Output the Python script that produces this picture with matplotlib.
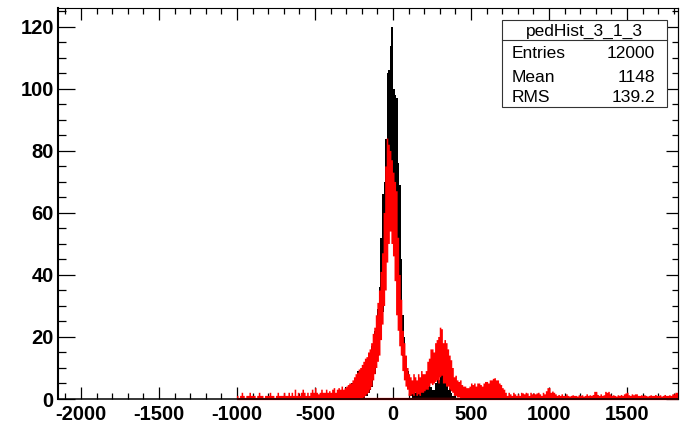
import numpy as np
import matplotlib
matplotlib.use("Agg")
import matplotlib.pyplot as plt
from matplotlib.patches import Rectangle
from matplotlib.ticker import MultipleLocator

# ---------------- data (envelopes of the fine-binned histograms, 10-unit bins) ----------------
bin_width = 10

# red histogram: upper envelope, bins start at -1000
red_start = -1000
red_hi = [
    1, 0, 1, 2, 1, 0, 1, 1, 2, 1,            # -1000
    1, 1, 0, 1, 2, 1, 1, 0, 1, 1,            # -900
    1, 2, 1, 1, 0, 1, 2, 1, 1, 1,            # -800
    2, 1, 1, 2, 1, 2, 1, 3, 1, 2,            # -700
    1, 2, 3, 2, 1, 2, 1, 2, 3, 2,            # -600
    3.5, 2, 1.5, 2, 3, 2, 2, 3, 2, 2.5,      # -500
    2, 3, 3.5, 2, 3, 3.5, 3, 4, 3, 3.5,      # -400
    4, 4.5, 5, 5, 6, 7, 8, 8.5, 9.5, 10,     # -300
    11, 12, 13, 13.5, 15, 16, 18, 21, 23, 27,  # -200
    31, 35, 41, 47, 60, 75, 84, 82, 80, 77,  # -100
    73, 70, 67, 52, 40, 32, 22, 18, 14, 10,  # 0
    8, 7, 6, 8, 7, 6, 8, 7, 9, 8,            # 100
    8, 9, 12, 13, 16, 16, 15, 18, 19, 20,    # 200
    23, 22.5, 18, 19, 18, 16, 14, 12.5, 10, 7,  # 300
    7.5, 6, 5.5, 6, 4.5, 4, 4, 3.5, 3.5, 4,  # 400
    5, 4.5, 5, 4, 5, 5, 4.5, 4, 5, 5.5,      # 500
    5.5, 5, 6, 6, 6.5, 6.7, 6, 6, 5, 4.5,    # 600
    3.5, 3, 2, 1, 2, 1.5, 1, 2, 1.5, 1,      # 700
    1.5, 1, 2, 1.8, 1.5, 2, 1.8, 1, 2, 1.5,  # 800
    1.8, 1.5, 1.8, 2, 1.5, 1, 2, 1.5, 2.5, 3.5,  # 900
    3.5, 2, 2.4, 2, 1.5, 1, 1.3, 1, 1.5, 1,  # 1000
    1, 1.5, 1, 0.8, 1, 1.2, 1, 1, 0.8, 1.2,  # 1100
    1, 1.2, 0.8, 1, 1.5, 1, 1.2, 1, 1.3, 2.3,  # 1200
    2.3, 1.3, 1, 1.5, 1, 1.2, 2.3, 2, 2.3, 1.5,  # 1300
    1, 1.2, 1, 0.8, 1.2, 1, 1.3, 1, 1.5, 1.8,  # 1400
    2, 1.2, 1, 1.5, 1.2, 1.5, 1.5, 1, 1, 1.2,  # 1500
    1, 1.2, 1, 0.8, 1, 1.2, 1, 1, 1.3, 1,    # 1600
    1, 1.2, 0.8, 1, 1.3, 1, 1, 1.2, 1, 1.5,  # 1700
    1.5, 2, 2, 1.5,                          # 1800
]
# red histogram: lower envelope (hollow), bins start at -200
red_lo_start = -200
red_lo = [
    0, 0.5, 1, 1.5, 2, 3, 4, 6, 8, 10,       # -200
    12, 14, 19, 24, 30, 35, 44, 50, 54, 50,  # -100
    46, 38, 27, 22, 17, 14, 9, 6, 4, 3,      # 0
    1, 1, 1.5, 1, 2, 1, 1.5, 1, 2, 2,        # 100
    2.5, 3, 3, 4, 5, 4.5, 5, 5.5, 6, 5,      # 200
    7, 7.5, 5, 5, 4, 4, 3, 2.5, 2, 1,        # 300
    1, 0.5, 0.5, 0, 0, 0,                    # 400
]

# black histogram: upper envelope, bins start at -700
black_start = -700
black_hi = [
    0, 1, 0, 0, 1, 0, 0, 1, 0, 1,            # -700
    0, 1, 0, 1, 0, 0, 1, 0, 1, 1,            # -600
    1, 0, 1, 1, 0, 1, 2, 1, 0, 1,            # -500
    1, 2, 1, 2, 1, 2, 3, 2, 2, 4,            # -400
    3, 4, 4, 5, 5, 6, 7, 9, 9, 9,            # -300
    10, 11, 12.6, 12.6, 14, 15, 17, 20, 22, 26,  # -200
    29, 36, 52, 66, 70, 84, 105, 106, 114, 120,  # -100
    100, 98, 97, 76, 69, 45, 27, 20, 14, 9,  # 0
    5, 3, 2, 3, 2, 3, 2, 4, 3, 4,            # 100
    4.5, 4, 4, 4.5, 4, 3, 3, 5, 6, 6,        # 200
    8.3, 8, 6, 5, 4.3, 3, 3.5, 2, 1, 1,      # 300
]
# black histogram: lower envelope, bins start at -200
black_lo_start = -200
black_lo = [
    0, 0, 1, 1, 2, 3, 4, 6, 8, 11,           # -200
    14, 16, 22, 28, 35, 45, 55, 62, 66, 68,  # -100
    62, 55, 45, 35, 27, 20, 14, 9, 6, 4,     # 0
    2, 1,                                    # 100
]

stats_title = "pedHist_3_1_3"
stats_rows = [("Entries", "12000"), ("Mean", "1148"), ("RMS", "139.2")]

x_major_ticks = [-2000, -1500, -1000, -500, 0, 500, 1000, 1500]
y_major_ticks = [0, 20, 40, 60, 80, 100, 120]
xlim = (-2147, 1827)
ylim = (0, 126.1)


def envelope(start, hi, lo_start, lo):
    hi = np.asarray(hi, dtype=float)
    edges = start + bin_width * np.arange(len(hi) + 1)
    low = np.zeros_like(hi)
    i0 = (lo_start - start) // bin_width
    low[i0:i0 + len(lo)] = lo
    low = np.minimum(low, hi)
    return edges, hi, low


r_edges, r_hi, r_lo = envelope(red_start, red_hi, red_lo_start, red_lo)
b_edges, b_hi, b_lo = envelope(black_start, black_hi, black_lo_start, black_lo)

# ---------------- figure ----------------
plt.rcParams['font.family'] = ['Liberation Sans', 'DejaVu Sans']
fig = plt.figure(figsize=(6.89, 4.23), dpi=100)
ax = fig.add_axes([58 / 689, 1 - 399 / 423, 620 / 689, 391 / 423])

ax.stairs(b_hi, b_edges, baseline=b_lo, fill=True, color='black', lw=0, zorder=2)
ax.stairs(r_hi, r_edges, baseline=r_lo, fill=True, color='#ff0000', lw=0, zorder=3)
ax.hlines(0, r_edges[0], min(r_edges[-1], xlim[1]), color='#ff0000', lw=1.6,
          zorder=4, clip_on=False)

ax.set_xlim(*xlim)
ax.set_ylim(*ylim)

ax.set_xticks(x_major_ticks)
ax.set_xticklabels([str(v) for v in x_major_ticks])
ax.set_yticks(y_major_ticks)
ax.set_yticklabels([str(v) for v in y_major_ticks])
ax.xaxis.set_minor_locator(MultipleLocator(100))
ax.yaxis.set_minor_locator(MultipleLocator(5))

for lab in ax.get_xticklabels() + ax.get_yticklabels():
    lab.set_fontweight('bold')
    lab.set_fontsize(14.5)

ax.tick_params(axis='x', which='both', direction='in', top=True, bottom=True,
               width=0.9, colors='black', pad=4)
ax.tick_params(axis='x', which='major', length=8.8)
ax.tick_params(axis='x', which='minor', length=4.3)
ax.tick_params(axis='y', which='both', direction='in', left=True, right=False,
               width=0.9, pad=3)
ax.tick_params(axis='y', which='major', length=12.5)
ax.tick_params(axis='y', which='minor', length=5.5)

sec = ax.secondary_yaxis('right')
sec.set_yticks(y_major_ticks)
sec.yaxis.set_minor_locator(MultipleLocator(5))
sec.tick_params(axis='y', which='both', direction='in', labelright=False, width=0.9)
sec.tick_params(axis='y', which='major', length=8.5)
sec.tick_params(axis='y', which='minor', length=4.3)
sec.spines['right'].set_linewidth(0.8)

ax.spines['left'].set_linewidth(1.5)
ax.spines['bottom'].set_linewidth(1.1)
ax.spines['top'].set_linewidth(0.8)
ax.spines['right'].set_linewidth(0.8)
for s in ax.spines.values():
    s.set_zorder(5)

# ---------------- stats box ----------------
bx0, bx1 = (502 - 58) / 620, (667 - 58) / 620
by0, by1 = (399 - 107) / 391, (399 - 20) / 391
ysep = (399 - 40) / 391
ax.add_patch(Rectangle((bx0, by0), bx1 - bx0, by1 - by0, transform=ax.transAxes,
                       facecolor='white', edgecolor='#333333', lw=0.8, zorder=10))
ax.plot([bx0, bx1], [ysep, ysep], transform=ax.transAxes, color='#333333',
        lw=0.8, zorder=11)
ax.text((584 - 58) / 620, (399 - 31) / 391, stats_title, transform=ax.transAxes,
        ha='center', va='center', fontsize=12.5, zorder=12)
row_y = [(399 - 53) / 391, (399 - 77.5) / 391, (399 - 97) / 391]
for (name, val), yy in zip(stats_rows, row_y):
    ax.text((512 - 58) / 620, yy, name, transform=ax.transAxes, ha='left',
            va='center', fontsize=12.5, zorder=12)
    ax.text((655 - 58) / 620, yy, val, transform=ax.transAxes, ha='right',
            va='center', fontsize=12.5, zorder=12)

fig.savefig('out.png', dpi=100, facecolor='white')
